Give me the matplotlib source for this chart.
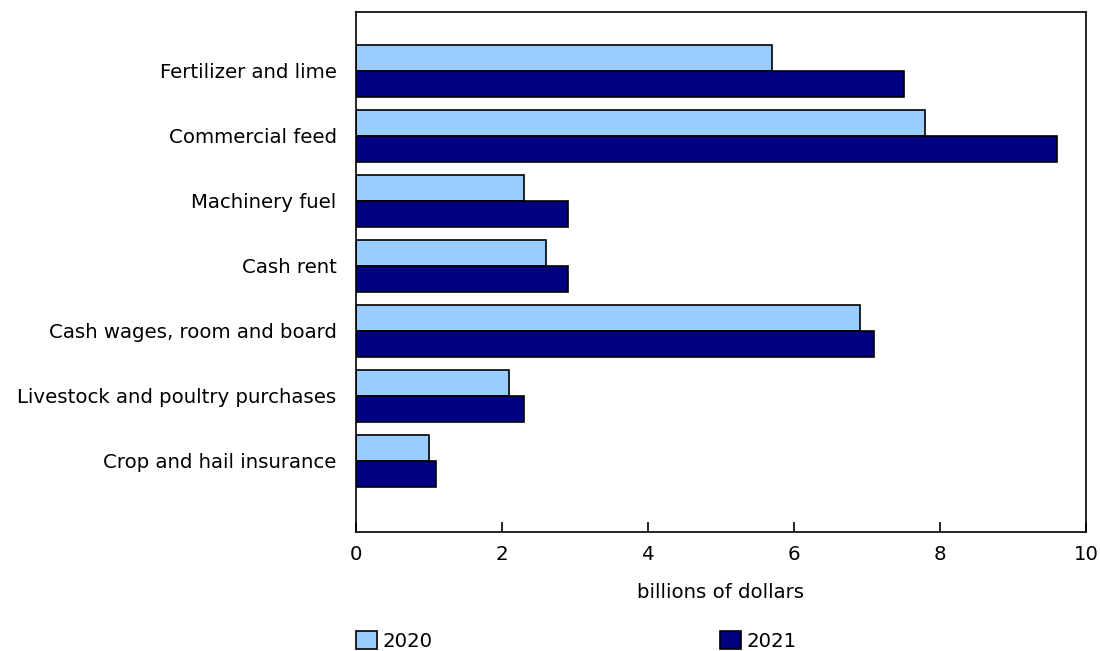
import matplotlib
matplotlib.use("Agg")
import matplotlib.pyplot as plt
from matplotlib.patches import Patch
import numpy as np

categories = [
    "Fertilizer and lime",
    "Commercial feed",
    "Machinery fuel",
    "Cash rent",
    "Cash wages, room and board",
    "Livestock and poultry purchases",
    "Crop and hail insurance",
]
values_2020 = [5.7, 7.8, 2.3, 2.6, 6.9, 2.1, 1.0]
values_2021 = [7.5, 9.6, 2.9, 2.9, 7.1, 2.3, 1.1]
series_labels = ["2020", "2021"]
xticks = [0, 2, 4, 6, 8, 10]
xlabel = "billions of dollars"

c2020 = "#99CCFF"
c2021 = "#000080"

plt.rcParams["font.family"] = ["DejaVu Sans"]
FS = 14.2

fig = plt.figure(figsize=(11, 6.51), dpi=100)
ax = fig.add_axes([356/1100, 1-532/651, (1086-356)/1100, (532-12)/651])

y = np.arange(len(categories))
h = 0.4
ax.barh(y - h/2, values_2020, height=h, color=c2020, edgecolor="black", linewidth=1.2)
ax.barh(y + h/2, values_2021, height=h, color=c2021, edgecolor="black", linewidth=1.2)

ax.set_ylim(len(categories) - 1 + 1.1, -0.9)
ax.set_xlim(0, 10)
ax.set_xticks(xticks)
ax.set_xticklabels([str(t) for t in xticks], fontsize=FS)
ax.set_yticks(y)
ax.set_yticklabels(categories, fontsize=FS)
ax.tick_params(axis="x", direction="in", length=7, width=1.2, pad=9)
ax.tick_params(axis="y", length=0, pad=14)
for s in ax.spines.values():
    s.set_linewidth(1.2)
ax.set_xlabel(xlabel, fontsize=FS, labelpad=14)

h1 = Patch(facecolor=c2020, edgecolor="black", linewidth=1.2, label=series_labels[0])
h2 = Patch(facecolor=c2021, edgecolor="black", linewidth=1.2, label=series_labels[1])
for hd, x0 in [(h1, 356/1100), (h2, 720/1100)]:
    fig.legend(handles=[hd], loc="lower left", bbox_to_anchor=(x0, 0.0),
               frameon=False, fontsize=FS, handlelength=1.05, handleheight=1.0,
               handletextpad=0.3, borderpad=0, borderaxespad=0)

fig.savefig("out.png", dpi=100)
